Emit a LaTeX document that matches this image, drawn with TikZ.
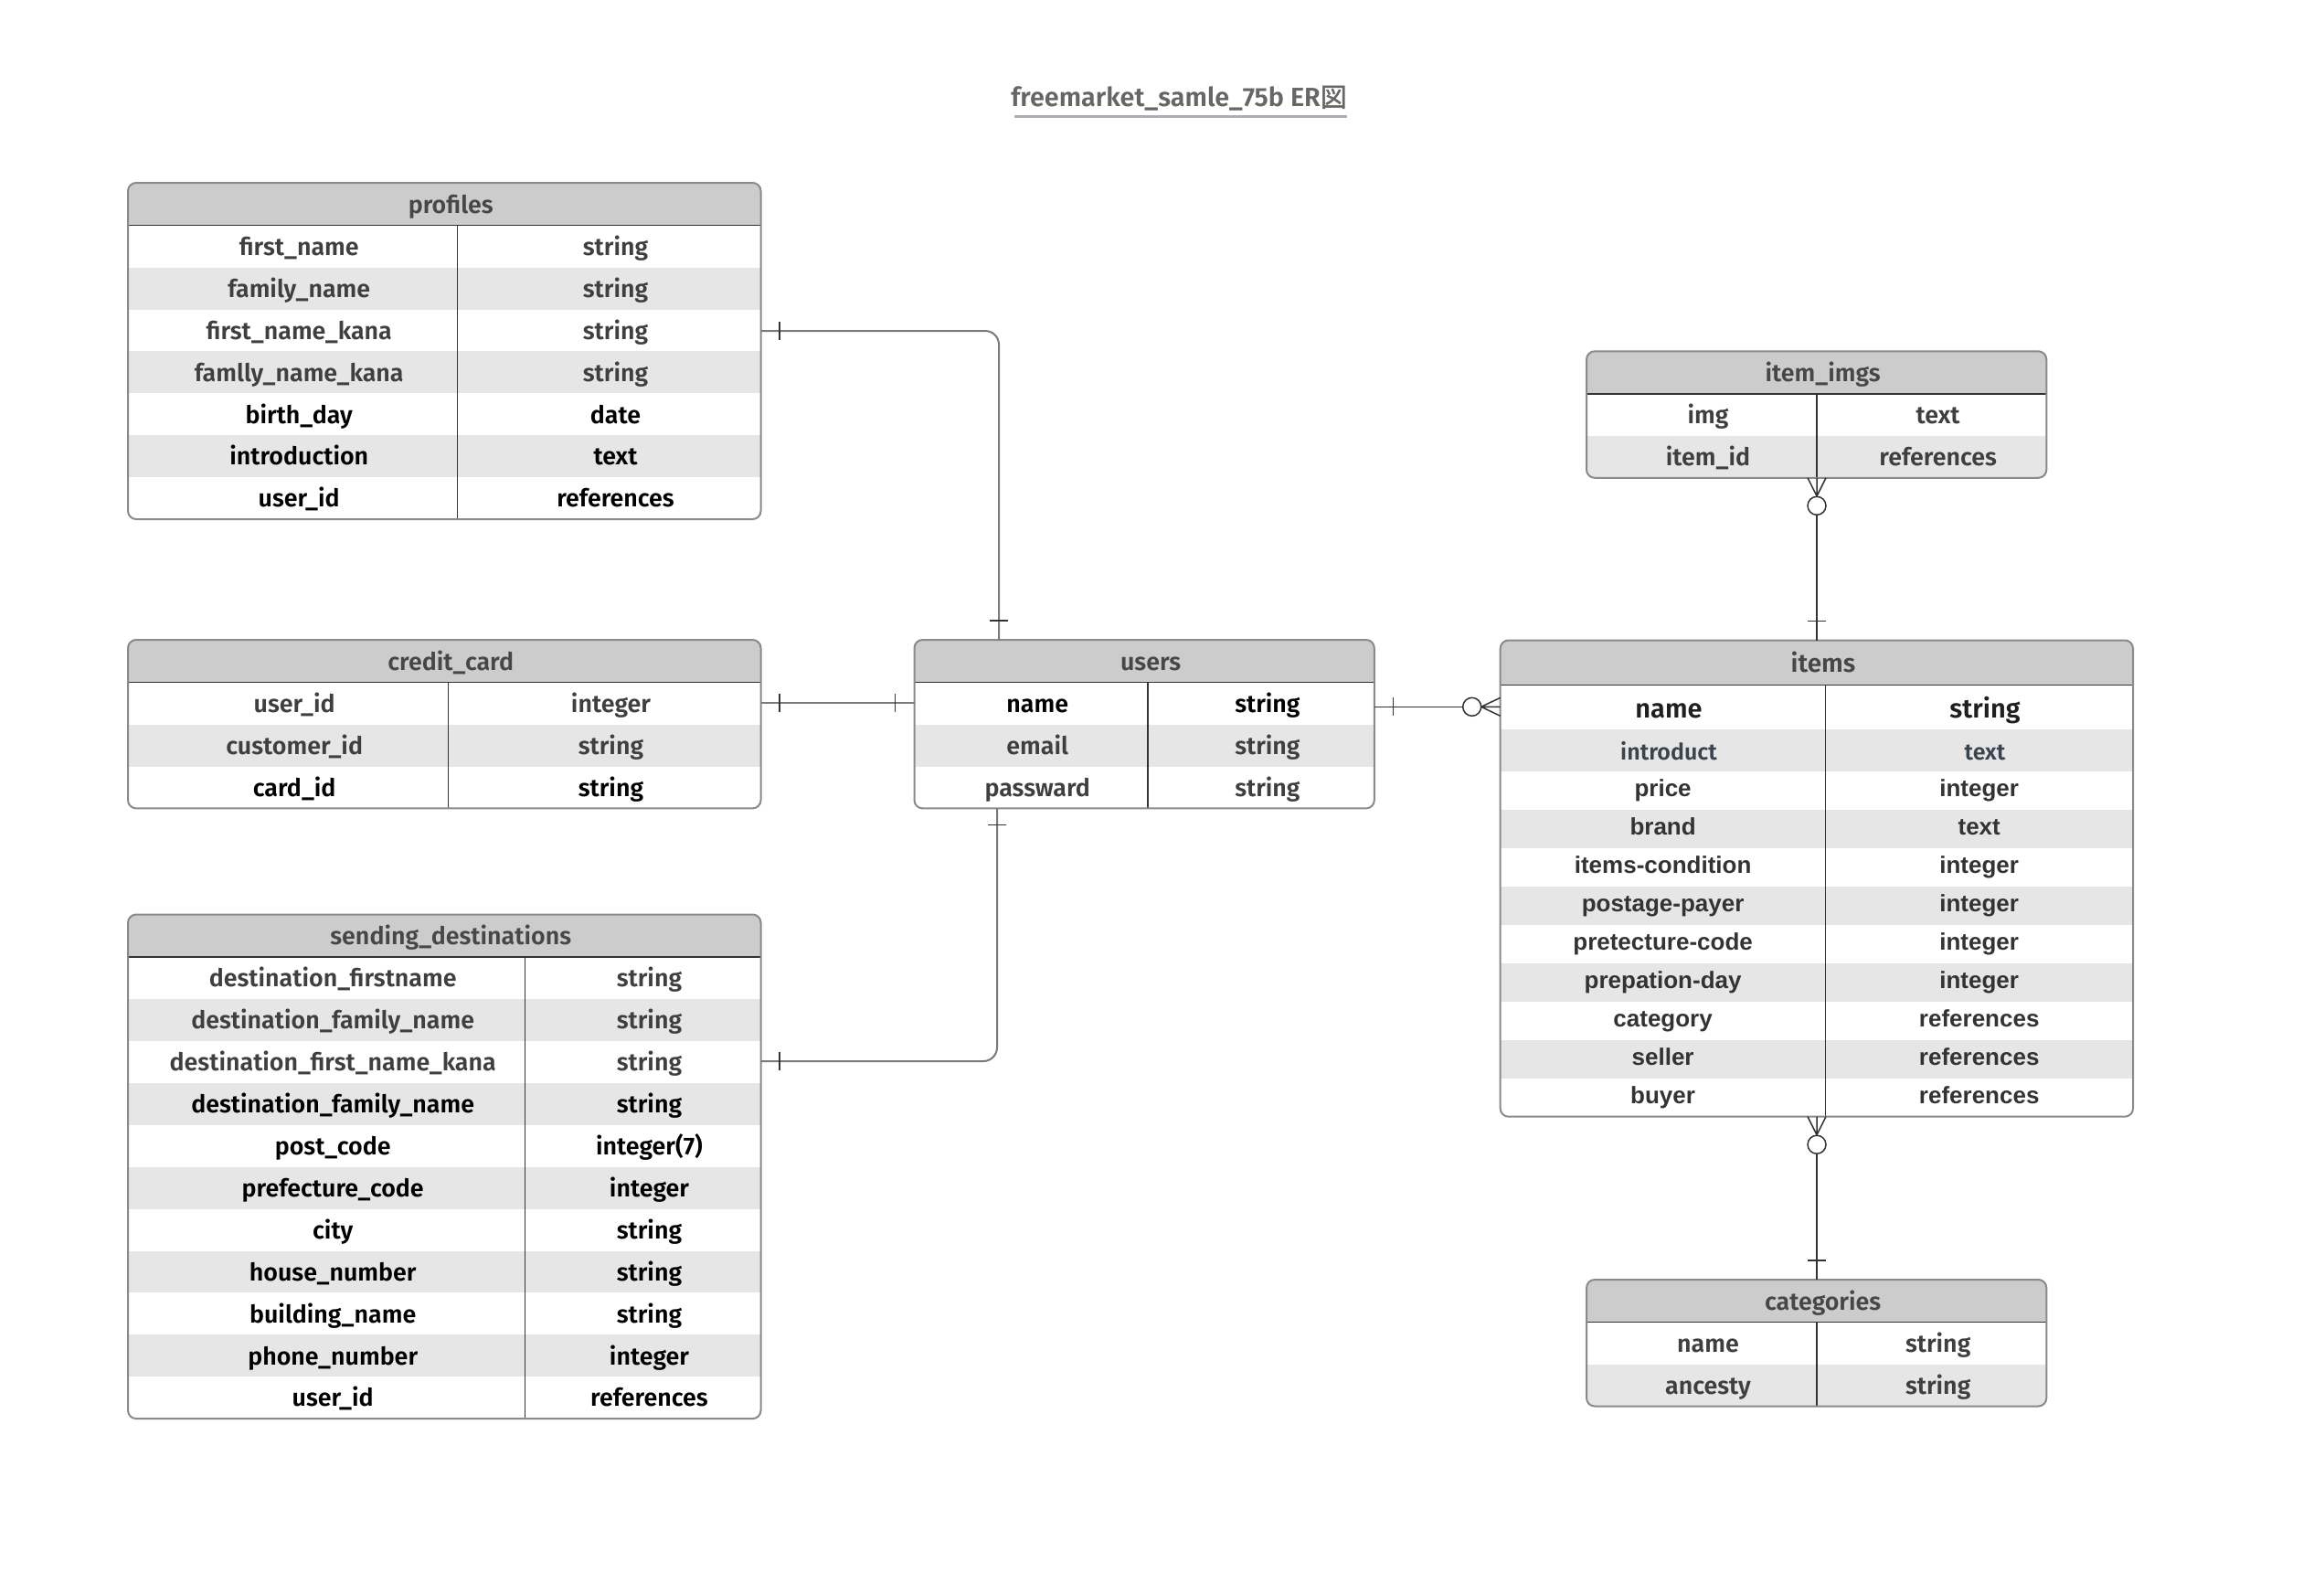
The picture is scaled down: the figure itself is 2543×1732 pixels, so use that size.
\documentclass[tikz,border=0pt]{standalone}
\usepackage{fontspec}
\setmainfont{Fira Sans}[BoldFont={Fira Sans SemiBold}]
\newfontfamily\cjk{Noto Sans CJK JP}[AutoFakeBold=1.5]
\newfontfamily\arl{Liberation Sans}
\usetikzlibrary{calc}
\definecolor{hdrgray}{HTML}{CCCCCC}
\definecolor{stripegray}{HTML}{E6E6E6}
\definecolor{framegray}{HTML}{8A8A8A}
\definecolor{darkline}{HTML}{333333}
\definecolor{txtg}{HTML}{3F3F3F}
\definecolor{hdrtxt}{HTML}{474747}
\definecolor{titlegray}{HTML}{666666}
\definecolor{ulinegray}{HTML}{A8AFB9}
\definecolor{bluegray}{HTML}{3A4451}
\definecolor{conngray}{HTML}{7A7A7A}
\definecolor{itemtxt}{HTML}{333333}
\tikzset{
  tblnode/.style={inner sep=0pt, outer sep=0pt, draw=none},
  tblframe/.style={draw=framegray, line width=2pt, rounded corners=9pt},
  hdrfill/.style={fill=hdrgray},
  stripefill/.style={fill=stripegray},
  hdrline/.style={draw=darkline, line width=1.5pt},
  divline/.style={draw=darkline, line width=1.2pt},
  celltxt/.style={inner sep=0pt, anchor=base, font=\fontsize{26.8}{30}\selectfont\bfseries},
  hdrtext/.style={inner sep=0pt, anchor=base, text=hdrtxt, font=\fontsize{26.8}{30}\selectfont\bfseries},
  itemtext/.style={inner sep=0pt, anchor=base, text=itemtxt, font=\arl\fontsize{26}{30}\selectfont\bfseries},
  titletxt/.style={inner sep=0pt, anchor=base, text=titlegray, font=\fontsize{28.8}{34}\selectfont\bfseries},
  uline/.style={draw=ulinegray, line width=2.5pt},
  conn/.style={draw=conngray, line width=2pt},
  conndark/.style={draw=darkline, line width=1.5pt},
  tick/.style={draw=darkline, line width=1.5pt},
}
\def\hdrH{46.7}
\def\rowH{45.9}
\def\tx{7}
% #1 id, #2 left, #3 top, #4 width, #5 divider offset, #6 number of rows, #7 title, #8 rows
\newcommand\ertable[8]{%
  \pgfmathsetmacro\tabH{\hdrH+#6*\rowH}%
  \pgfmathsetmacro\tabR{#2+#4}%
  \pgfmathsetmacro\tabD{#2+#5}%
  \pgfmathsetmacro\tabB{#3+\tabH}%
  \pgfmathsetmacro\tabHB{#3+\hdrH}%
  \node[tblnode, minimum width=#4pt, minimum height={\tabH pt}, anchor=north west] (#1) at (#2,#3) {};
  \begin{scope}
    \clip[rounded corners=9pt] (#1.north west) rectangle (#1.south east);
    \fill[hdrfill] (#1.north west) rectangle (\tabR,\tabHB);
    \foreach \f/\t/\s [count=\i] in {#8} {%
      \pgfmathsetmacro\ya{\tabHB+(\i-1)*\rowH}%
      \ifodd\i\relax\else\fill[stripefill] (#2,\ya) rectangle (\tabR,\ya+\rowH);\fi
    }
  \end{scope}
  \draw[hdrline] (#2,\tabHB) -- (\tabR,\tabHB);
  \draw[divline] (\tabD,\tabHB) -- (\tabD,\tabB);
  \draw[tblframe] (#1.north west) rectangle (#1.south east);
  \node[hdrtext] at (#2+#4/2+\tx, #3+\hdrH/2+9.8) {#7};
  \foreach \f/\t/\s [count=\i] in {#8} {%
    \pgfmathsetmacro\yb{\tabHB+(\i-0.5)*\rowH+9.8}%
    \node[celltxt, text=\s] at (#2/2+\tabD/2+\tx, \yb) {\f};
    \node[celltxt, text=\s] at (\tabD/2+\tabR/2+\tx, \yb) {\t};
  }
}
\begin{document}
\begin{tikzpicture}[x=1pt, y=-1pt]
\fill[white] (0,0) rectangle (2543,1732);
\useasboundingbox (0,0) rectangle (2543,1732);

% title
\node[titletxt] (title) at (1290,116.7) {freemarket\_samle\_75b ER{\cjk 図}};
\draw[uline] ([xshift=4pt, yshift=-11pt]title.base west) -- ([yshift=-11pt]title.base east);

% tables
\ertable{profiles}{140}{200}{692.5}{360.5}{7}{profiles}{%
  first\_name/string/txtg, family\_name/string/txtg, first\_name\_kana/string/txtg,
  famlly\_name\_kana/string/txtg, birth\_day/date/black, introduction/text/black,
  user\_id/references/black}

\ertable{cc}{140}{700}{692.5}{350.4}{3}{credit\_card}{%
  user\_id/integer/txtg, customer\_id/string/txtg, card\_id/string/black}

\ertable{sd}{140}{1000.5}{692.5}{434.4}{11}{sending\_destinations}{%
  destination\_firstname/string/txtg, destination\_family\_name/string/txtg,
  destination\_first\_name\_kana/string/txtg, destination\_family\_name/string/black,
  post\_code/integer(7)/black, prefecture\_code/integer/black, city/string/black,
  house\_number/string/black, building\_name/string/black, phone\_number/integer/black,
  user\_id/references/black}

\ertable{users}{1000.5}{700}{503.3}{255.5}{3}{users}{%
  name/string/black, email/string/txtg, passward/string/txtg}

\ertable{itemimgs}{1736}{384.3}{503.3}{252}{2}{item\_imgs}{%
  img/text/txtg, item\_id/references/txtg}

\ertable{categories}{1736}{1400}{503.3}{252}{2}{categories}{%
  name/string/txtg, ancesty/string/txtg}

% items table (irregular rows)
\node[tblnode, minimum width=692.3pt, minimum height=521.2pt, anchor=north west] (items) at (1641.7,700.5) {};
\begin{scope}
  \clip[rounded corners=9pt] (items.north west) rectangle (items.south east);
  \fill[hdrfill] (items.north west) rectangle (2334,749.3);
  \foreach \ya/\yb in {797.7/844, 886/928, 970/1012, 1054/1096, 1138/1180}
    \fill[stripefill] (1641.7,\ya) rectangle (2334,\yb);
\end{scope}
\draw[hdrline] (1641.7,749.3) -- (2334,749.3);
\draw[divline] (1997.5,749.3) -- (1997.5,1221.7);
\draw[tblframe] (items.north west) rectangle (items.south east);
\node[hdrtext, font=\fontsize{28}{32}\selectfont\bfseries] at (1995,735) {items};
\node[celltxt, text=black!88, font=\fontsize{29}{34}\selectfont\bfseries] at (1826,785) {name};
\node[celltxt, text=black!88, font=\fontsize{29}{34}\selectfont\bfseries] at (2172,785) {string};
\node[celltxt, text=bluegray, font=\fontsize{25}{30}\selectfont\bfseries] at (1826,831.7) {introduct};
\node[celltxt, text=bluegray, font=\fontsize{25}{30}\selectfont\bfseries] at (2172,831.7) {text};
\foreach \f/\t/\yc in {price/integer/865, brand/text/907, items-condition/integer/949,
  postage-payer/integer/991, pretecture-code/integer/1033, prepation-day/integer/1075,
  category/references/1117, seller/references/1159, buyer/references/1201} {
  \node[itemtext] at (1819.6,\yc+6.5) {\f};
  \node[itemtext] at (2165.7,\yc+6.5) {\t};
}

% connector profiles - users
\coordinate (c1a) at (profiles.east |- 0,362);
\coordinate (c1b) at (1093,0 |- users.north);
\draw[conn, rounded corners=15pt] (c1a) -| (c1b);
\draw[tick] ([xshift=20.5pt]c1a) ++(0,-10) -- ++(0,20);
\draw[tick] ([yshift=21pt]c1b) ++(-10,0) -- ++(20,0);

% connector credit_card - users
\coordinate (c2a) at (cc.east |- 0,769);
\coordinate (c2b) at (users.west |- 0,769);
\draw[conn] (c2a) -- (c2b);
\draw[tick] ([xshift=20.5pt]c2a) ++(0,-10) -- ++(0,20);
\draw[tick] ([xshift=-21pt]c2b) ++(0,-10) -- ++(0,20);

% connector sending_destinations - users
\coordinate (c3a) at (sd.east |- 0,1161);
\coordinate (c3b) at (1091,0 |- users.south);
\draw[conn, rounded corners=15pt] (c3a) -| (c3b);
\draw[tick] ([xshift=20.5pt]c3a) ++(0,-10) -- ++(0,20);
\draw[tick] ([yshift=-18pt]c3b) ++(-10,0) -- ++(20,0);

% connector users - items
\coordinate (c4a) at (users.east |- 0,773.3);
\coordinate (c4b) at (items.west |- 0,773.3);
\draw[conndark] (c4a) -- ([xshift=-41pt]c4b);
\draw[conndark] ([xshift=-31pt]c4b) circle (10pt);
\draw[conndark] ([xshift=-21pt]c4b) -- ([yshift=10pt]c4b)
                ([xshift=-21pt]c4b) -- (c4b)
                ([xshift=-21pt]c4b) -- ([yshift=-10pt]c4b);
\draw[tick] ([xshift=20.5pt]c4a) ++(0,-10) -- ++(0,20);

% connector item_imgs - items
\coordinate (c5a) at (1988,0 |- itemimgs.south);
\coordinate (c5b) at (1988,0 |- items.north);
\draw[conndark] ([xshift=-10pt]c5a) -- ([yshift=-20pt]c5a)
                (c5a) -- ([yshift=-20pt]c5a)
                ([xshift=10pt]c5a) -- ([yshift=-20pt]c5a);
\draw[conndark] ([yshift=-30.5pt]c5a) circle (10pt);
\draw[conndark] ([yshift=-40.5pt]c5a) -- (c5b);
\draw[tick] ([yshift=21pt]c5b) ++(-10,0) -- ++(20,0);

% connector items - categories
\coordinate (c6a) at (1988,0 |- items.south);
\coordinate (c6b) at (1988,0 |- categories.north);
\draw[conndark] ([xshift=-10pt]c6a) -- ([yshift=-20pt]c6a)
                (c6a) -- ([yshift=-20pt]c6a)
                ([xshift=10pt]c6a) -- ([yshift=-20pt]c6a);
\draw[conndark] ([yshift=-30.5pt]c6a) circle (10pt);
\draw[conndark] ([yshift=-40.5pt]c6a) -- (c6b);
\draw[tick] ([yshift=21pt]c6b) ++(-10,0) -- ++(20,0);
\end{tikzpicture}
\end{document}
